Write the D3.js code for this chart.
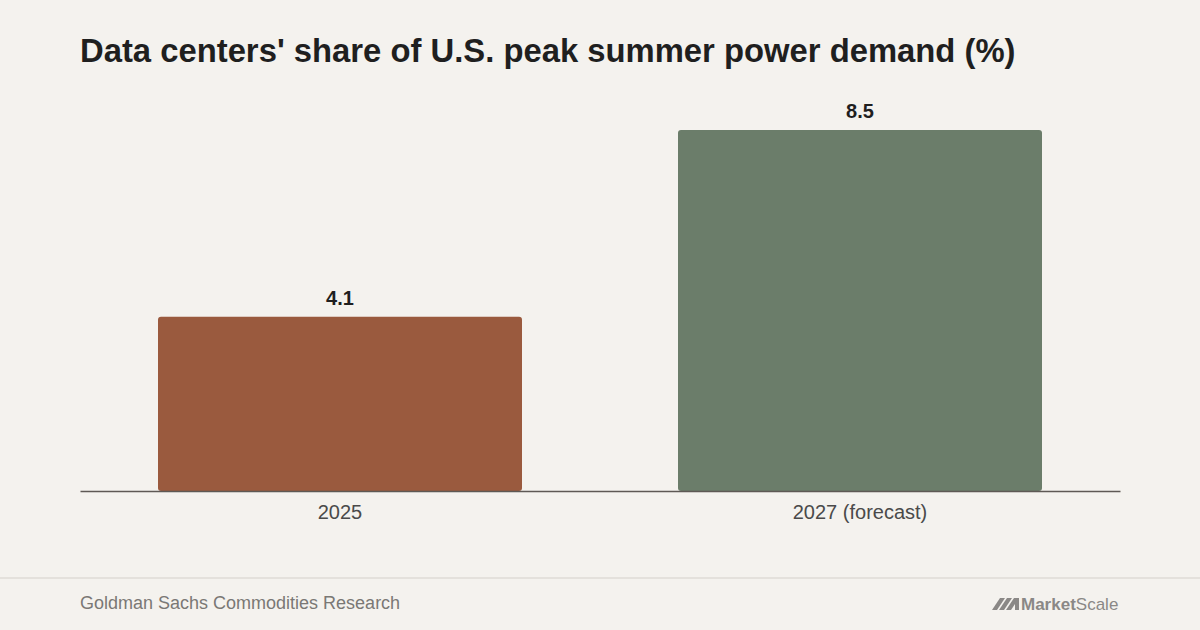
<!DOCTYPE html>
<html>
<head>
<meta charset="utf-8">
<script src="https://cdn.jsdelivr.net/npm/d3@7"></script>
<style>
  body { margin: 0; background: #f4f2ee; }
  svg { display: block; font-family: "Liberation Sans", Arial, sans-serif; }
</style>
</head>
<body>
<div id="container"></div>
<script>
const categories = ["2025", "2027 (forecast)"];
const values = [4.1, 8.5];
const colors = ["#9a5a3e", "#6b7d6a"];

const w = 1200;
const h = 630;

const svg = d3.select("#container")
  .append("svg")
  .attr("width", w)
  .attr("height", h)
  .style("background-color", "#f4f2ee");

svg.append("text")
  .attr("x", 80)
  .attr("y", 62)
  .style("font-size", "32.8px")
  .style("font-weight", "bold")
  .style("fill", "#1f1f1f")
  .text("Data centers' share of U.S. peak summer power demand (%)");

const xScale = d3.scaleBand()
  .domain(categories)
  .range([80, 1120])
  .paddingInner(0.3)
  .paddingOuter(0.15);

const yScale = d3.scaleLinear()
  .domain([0, 8.5])
  .range([491, 130]);

svg.selectAll("rect.bar")
  .data(values)
  .enter()
  .append("rect")
  .attr("class", "bar")
  .attr("x", (d, i) => xScale(categories[i]))
  .attr("y", d => yScale(d))
  .attr("width", xScale.bandwidth())
  .attr("height", d => yScale(0) - yScale(d))
  .attr("rx", 3)
  .attr("fill", (d, i) => colors[i]);

svg.selectAll("text.val")
  .data(values)
  .enter()
  .append("text")
  .attr("class", "val")
  .attr("x", (d, i) => xScale(categories[i]) + xScale.bandwidth() / 2)
  .attr("y", d => yScale(d) - 12)
  .attr("text-anchor", "middle")
  .style("font-size", "20px")
  .style("font-weight", "bold")
  .style("fill", "#1f1f1f")
  .text(d => d.toFixed(1));

const xAxis = svg.append("g")
  .attr("transform", "translate(0," + yScale(0) + ")")
  .call(d3.axisBottom(xScale).tickSize(0).tickPadding(14).tickSizeOuter(0));
xAxis.select(".domain").attr("stroke", "#5e5955").attr("stroke-width", 1.5);
xAxis.selectAll("text")
  .style("font-size", "20px")
  .style("fill", "#4a4a4a")
  .style("font-family", "'Liberation Sans', Arial, sans-serif");

// footer
svg.append("line")
  .attr("x1", 0).attr("x2", w)
  .attr("y1", 578).attr("y2", 578)
  .attr("stroke", "#e4e1dc")
  .attr("stroke-width", 2);

svg.append("text")
  .attr("x", 80)
  .attr("y", 609)
  .style("font-size", "18px")
  .style("fill", "#7a7875")
  .text("Goldman Sachs Commodities Research");

const logo = svg.append("g").attr("transform", "translate(992,610)").attr("fill", "#8a8886");
logo.append("path").attr("d", "M0,0 L8,-12 L13,-12 L5,0 Z");
logo.append("path").attr("d", "M7,0 L15,-12 L20,-12 L12,0 Z");
logo.append("path").attr("d", "M14,0 L22,-12 L27,-12 L27,0 L23,0 L23,-6 L19,0 Z");
logo.append("text")
  .attr("x", 29).attr("y", 0)
  .style("font-size", "17px")
  .style("font-weight", "bold")
  .text("Market")
  .append("tspan")
  .style("font-weight", "normal")
  .text("Scale");
</script>
</body>
</html>
